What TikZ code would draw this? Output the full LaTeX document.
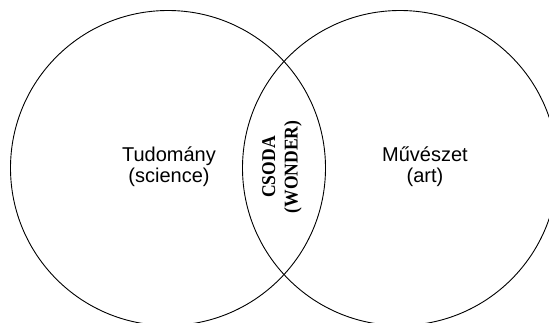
\documentclass[tikz,border=0pt]{standalone}
\usepackage{fontspec}
\setmainfont{Liberation Sans}
\newfontfamily\serifbold{Liberation Serif}
\begin{document}
\begin{tikzpicture}[x=1pt,y=-1pt,
  setcircle/.style={circle,draw=black,line width=0.9pt,minimum size=315pt,inner sep=0pt},
  label/.style={align=center,font=\fontsize{20}{21}\selectfont,inner sep=0pt},
  wonder/.style={align=center,rotate=90,xscale=0.9,font=\serifbold\bfseries\fontsize{19.5}{22.5}\selectfont,inner sep=0pt}]
  \useasboundingbox (0,0) rectangle (549,322);
  % the two overlapping sets
  \node[setcircle] (science) at (168,168) {};
  \node[setcircle] (art) at (400,168) {};
  % labels
  \node[label] (scitext) at (169,167) {Tudomány\\(science)};
  \node[label] (arttext) at (425,167) {Művészet\\(art)};
  \node[wonder] (wondertext) at (282,167) {CSODA\\(WONDER)};
\end{tikzpicture}
\end{document}
